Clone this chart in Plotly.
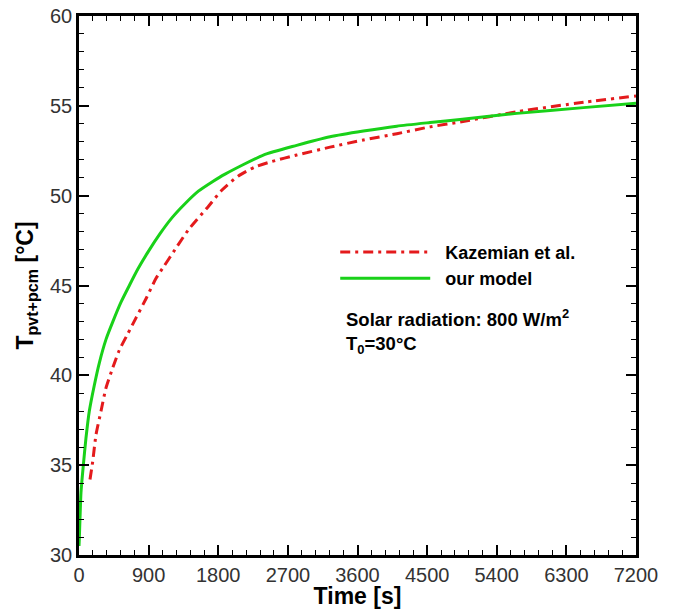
import plotly.graph_objects as go

# Data
time_model = [0, 4, 26, 56, 90, 133, 198, 263, 349, 435, 543, 651, 759, 897, 1050, 1198,
              1370, 1543, 1715, 1888, 2383, 2814, 3245, 3676, 4108, 4538, 4926, 5660, 6521, 7200]
temp_model = [30.5, 30.9, 33.5, 35.0, 36.5, 38.0, 39.45, 40.7, 42.0, 42.96, 44.07, 45.0,
              45.9, 46.9, 47.9, 48.75, 49.55, 50.25, 50.75, 51.2, 52.26, 52.8, 53.28, 53.6,
              53.87, 54.07, 54.24, 54.58, 54.9, 55.15]

time_kaz = [142, 177, 220, 284, 349, 435, 521, 629, 737, 866, 996, 1103, 1241, 1414,
            1672, 1845, 2060, 2276, 2491, 2814, 3245, 3676, 4108, 4538, 4926, 5660, 6521, 7200]
temp_kaz = [34.2, 35.2, 36.7, 38.0, 39.3, 40.4, 41.4, 42.3, 43.2, 44.26, 45.4, 46.1,
            47.0, 48.1, 49.4, 50.3, 51.1, 51.6, 51.9, 52.26, 52.7, 53.1, 53.45, 53.83,
            54.1, 54.67, 55.2, 55.55]

x_ticks = [0, 900, 1800, 2700, 3600, 4500, 5400, 6300, 7200]
y_ticks = [30, 35, 40, 45, 50, 55, 60]

FONT = "Liberation Sans, Arial, sans-serif"
NB = "\u00a0\u00a0"

fig = go.Figure()
fig.add_trace(go.Scatter(
    x=time_kaz, y=temp_kaz, mode="lines", name=NB + "<b>Kazemian et al.</b>",
    line=dict(color="#e41a1c", width=3, dash="10px,5px,3px,5px", shape="spline", smoothing=0.6),
))
fig.add_trace(go.Scatter(
    x=time_model, y=temp_model, mode="lines", name=NB + "<b>our model</b>",
    line=dict(color="#19d119", width=3, shape="spline", smoothing=0.6),
))

axis_common = dict(
    showline=True, linecolor="black", linewidth=2.5, mirror="allticks",
    ticks="inside", ticklen=10, tickwidth=2, tickcolor="black",
    showgrid=False, zeroline=False, automargin=False, ticklabeloverflow="allow",
    tickfont=dict(family=FONT, size=20, color="#333333"),
)

fig.update_xaxes(
    range=[0, 7200], tickvals=x_ticks, ticktext=[str(v) for v in x_ticks],
    minor=dict(dtick=180, tick0=0, ticks="inside", ticklen=5, tickwidth=1, tickcolor="black"),
    title=dict(text="<b>Time [s]</b>", font=dict(family=FONT, size=23, color="black"), standoff=0),
    **axis_common,
)
fig.update_yaxes(
    range=[30, 60], tickvals=y_ticks, ticktext=[str(v) for v in y_ticks],
    minor=dict(dtick=1, tick0=30, ticks="inside", ticklen=5, tickwidth=1, tickcolor="black"),
    title=dict(text="<b>T<sub>pvt+pcm</sub> [°C]</b>", font=dict(family=FONT, size=23, color="black"), standoff=10),
    **axis_common,
)

fig.add_annotation(
    xref="paper", yref="paper", x=0.476, y=0.466, xanchor="left", yanchor="top",
    align="left", showarrow=False,
    text="<b>Solar radiation: 800 W/m<sup>2</sup><br>T<sub>0</sub>=30°C</b>",
    font=dict(family=FONT, size=18.5, color="black"),
)

# the page body adds an 8px offset, so the figure is sized/margined to compensate
fig.update_layout(
    width=682, height=601,
    margin=dict(l=71, r=54, t=8, b=54),
    paper_bgcolor="white", plot_bgcolor="white",
    showlegend=True,
    legend=dict(
        x=0.46, y=0.596, xanchor="left", yanchor="top",
        bgcolor="rgba(0,0,0,0)", itemwidth=90,
        font=dict(family=FONT, size=18, color="black"),
        tracegroupgap=0,
    ),
)

fig.write_html("out.html")
